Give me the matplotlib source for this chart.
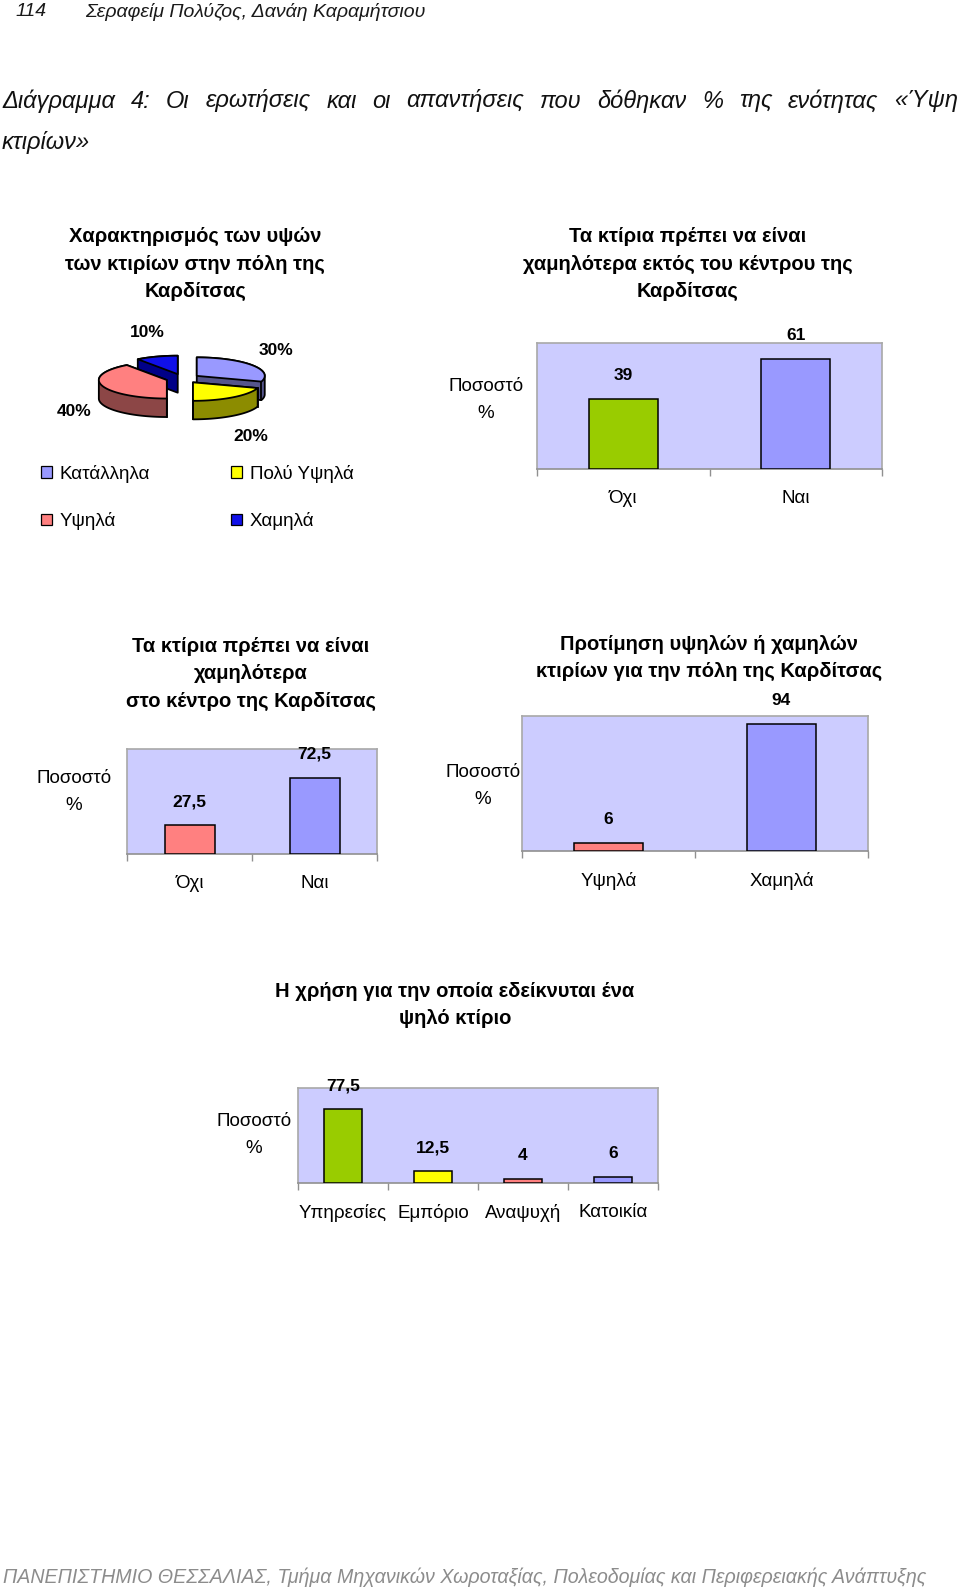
import matplotlib
matplotlib.use("Agg")
import matplotlib.pyplot as plt
import numpy as np
from matplotlib.patches import Polygon, Patch

plt.rcParams['font.family'] = ['Liberation Sans', 'DejaVu Sans']

W, H = 960, 1595

# pie: Χαρακτηρισμός των υψών (clockwise from 12 o'clock)
pie_labels = ['Κατάλληλα', 'Πολύ Υψηλά', 'Υψηλά', 'Χαμηλά']
pie_values = [30, 20, 40, 10]
pie_top = ['#9999FF', '#FFFF00', '#FF8080', '#1010E8']
pie_side = ['#55558C', '#8C8C00', '#8C4646', '#000088']

# bars
outside_cats = ['Όχι', 'Ναι']
outside_vals = [39, 61]
centre_cats = ['Όχι', 'Ναι']
centre_vals = [27.5, 72.5]
pref_cats = ['Υψηλά', 'Χαμηλά']
pref_vals = [6, 94]
use_cats = ['Υπηρεσίες', 'Εμπόριο', 'Αναψυχή', 'Κατοικία']
use_vals = [77.5, 12.5, 4, 6]

GREEN, LAV, RED, YEL = '#99CC00', '#9999FF', '#FF8080', '#FFFF00'

fig = plt.figure(figsize=(W / 100, H / 100), dpi=100)
fig.patch.set_facecolor('white')


def fy(y):
    return 1 - y / H


def fmt(v):
    return f"{v:g}".replace('.', ',')


def bar_chart(l, t, r, b, cats, vals, colors, ymax, width=0.4):
    ax = fig.add_axes([l / W, fy(b), (r - l) / W, (b - t) / H])
    x = np.arange(len(cats))
    ax.bar(x, vals, width, color=colors, edgecolor='black', linewidth=1.1, zorder=3)
    ax.set_xlim(-0.5, len(cats) - 0.5)
    ax.set_ylim(0, ymax)
    ax.set_facecolor('#CCCCFF')
    for s in ax.spines.values():
        s.set_color('#A8A8A8')
        s.set_linewidth(1.2)
    ax.spines['bottom'].set_color('#909090')
    ax.set_yticks([])
    ax.set_xticks(x, cats, fontsize=13.5)
    ax.tick_params(axis='x', which='major', length=0, pad=15)
    ax.set_xticks(np.arange(len(cats) + 1) - 0.5, minor=True)
    ax.tick_params(axis='x', which='minor', length=5, color='#909090', width=1)
    for xi, v in zip(x, vals):
        ax.annotate(fmt(v), (xi, v), xytext=(0, 17), textcoords='offset points',
                    ha='center', va='center', fontsize=12.5, fontweight='bold',
                    annotation_clip=False)
    return ax


def ylab(x, y):
    fig.text(x / W, fy(y), 'Ποσοστό\n%', ha='center', va='center',
             fontsize=13.5, linespacing=1.8)


def title(x, y, s):
    fig.text(x / W, fy(y), s, ha='center', va='center', fontsize=14.5,
             fontweight='bold', linespacing=1.58)


# ---- header / page title ----
fig.text(15 / W, fy(12), '114', fontsize=14, style='italic', va='center', color='#1a1a1a')
fig.text(85 / W, fy(12), 'Σεραφείμ Πολύζος, Δανάη Καραμήτσιου', fontsize=14,
         style='italic', va='center', color='#1a1a1a')

rend = fig.canvas.get_renderer()


def justify(words, x0, x1, y, **kw):
    ts = [fig.text(0, fy(y), w, va='center', **kw) for w in words]
    ws = [t.get_window_extent(rend).width for t in ts]
    gap = (x1 - x0 - sum(ws)) / (len(ws) - 1)
    x = x0
    for t, w in zip(ts, ws):
        t.set_x(x / W)
        x += w + gap


tkw = dict(style='italic', fontsize=17, color='#111111')
justify('Διάγραμμα 4: Οι ερωτήσεις και οι απαντήσεις που δόθηκαν % της ενότητας «Ύψη'.split(),
        2, 958, 101, **tkw)
fig.text(2 / W, fy(143), 'κτιρίων»', va='center', **tkw)

# footer, stretched to the line width
ft = fig.text(3 / W, fy(1577), 'ΠΑΝΕΠΙΣΤΗΜΙΟ ΘΕΣΣΑΛΙΑΣ, Τμήμα Μηχανικών Χωροταξίας, '
              'Πολεοδομίας και Περιφερειακής Ανάπτυξης',
              family=['Liberation Sans Narrow', 'Liberation Sans'], style='italic',
              fontsize=16, color='#8C8C8C', va='center')
fw = ft.get_window_extent(rend).width
ft.set_fontsize(16 * (931 - 3) / fw)

# ---- chart 1: 3D exploded pie ----
title(195, 264, 'Χαρακτηρισμός των υψών\nτων κτιρίων στην πόλη της\nΚαρδίτσας')
pax = fig.add_axes([0, 0, 1, 1])
pax.set_xlim(0, W)
pax.set_ylim(H, 0)
pax.set_axis_off()

cx, cy, rx, ry, depth, expl = 183, 378.6, 68, 18.5, 18.5, 17


def hull(pts):
    pts = sorted(set(map(tuple, np.round(pts, 3))))

    def half(seq):
        out = []
        for p in seq:
            while len(out) >= 2 and ((out[-1][0] - out[-2][0]) * (p[1] - out[-2][1]) -
                                     (out[-1][1] - out[-2][1]) * (p[0] - out[-2][0])) <= 0:
                out.pop()
            out.append(p)
        return out
    lo, up = half(pts), half(pts[::-1])
    return np.array(lo[:-1] + up[:-1])


fracs = np.array(pie_values) / sum(pie_values)
ends = 90 - 360 * np.cumsum(fracs)
starts = np.r_[90, ends[:-1]]
order = np.argsort([-np.sin(np.radians((s + e) / 2)) for s, e in zip(starts, ends)])
for i in order:
    t0, t1 = ends[i], starts[i]
    mid = np.radians((t0 + t1) / 2)
    ox = cx + expl * np.cos(mid)
    oy = cy - expl * ry / rx * np.sin(mid)
    th = np.radians(np.linspace(t0, t1, 80))
    top = np.column_stack([np.r_[ox, ox + rx * np.cos(th)], np.r_[oy, oy - ry * np.sin(th)]])
    bot = top + [0, depth]
    pax.add_patch(Polygon(hull(np.vstack([top, bot])), closed=True, fc=pie_side[i],
                          ec='black', lw=1.3, joinstyle='round'))
    pax.add_patch(Polygon(top, closed=True, fc=pie_top[i], ec='black', lw=1.3, joinstyle='round'))
    for a in (t0, t1):
        if np.sin(np.radians(a)) < -0.01:
            px = ox + rx * np.cos(np.radians(a))
            py = oy - ry * np.sin(np.radians(a))
            pax.plot([px, px], [py, py + depth], color='black', lw=1.3)
    lx = ox + (rx + 30) * np.cos(mid)
    ly = oy - (ry + 25) * np.sin(mid) + (depth if np.sin(mid) < 0 else 0)
    pax.text(lx, ly, f"{pie_values[i]}%", ha='center', va='center', fontsize=12.5,
             fontweight='bold')

leg_order = [0, 2, 1, 3]
handles = [Patch(fc=pie_top[i], ec='black', lw=0.9) for i in leg_order]
fig.legend(handles, [pie_labels[i] for i in leg_order], ncol=2, loc='upper left',
           bbox_to_anchor=(41 / W, fy(465)), frameon=False, fontsize=13.5,
           handlelength=0.6, handleheight=0.6, handletextpad=0.4, columnspacing=4.3,
           labelspacing=1.55, borderpad=0, borderaxespad=0)

# ---- chart 2 ----
title(688, 264, 'Τα κτίρια πρέπει να είναι\nχαμηλότερα εκτός του κέντρου της\nΚαρδίτσας')
bar_chart(537, 343, 882, 469, outside_cats, outside_vals, [GREEN, LAV], 70)
ylab(486, 400)

# ---- chart 3 ----
title(251, 674, 'Τα κτίρια πρέπει να είναι\nχαμηλότερα\nστο κέντρο της Καρδίτσας')
bar_chart(127, 749, 377, 854, centre_cats, centre_vals, [RED, LAV], 100)
ylab(74, 792)

# ---- chart 4 ----
title(709, 658, 'Προτίμηση υψηλών ή χαμηλών\nκτιρίων για την πόλη της Καρδίτσας')
bar_chart(522, 716, 868, 851, pref_cats, pref_vals, [RED, LAV], 100)
ylab(483, 786)

# ---- chart 5 ----
title(455, 1005, 'Η χρήση για την οποία εδείκνυται ένα\nψηλό κτίριο')
bar_chart(298, 1088, 658, 1183, use_cats, use_vals, [GREEN, YEL, RED, LAV], 100, width=0.42)
ylab(254, 1135)

fig.savefig('out.png', dpi=100, facecolor='white')
